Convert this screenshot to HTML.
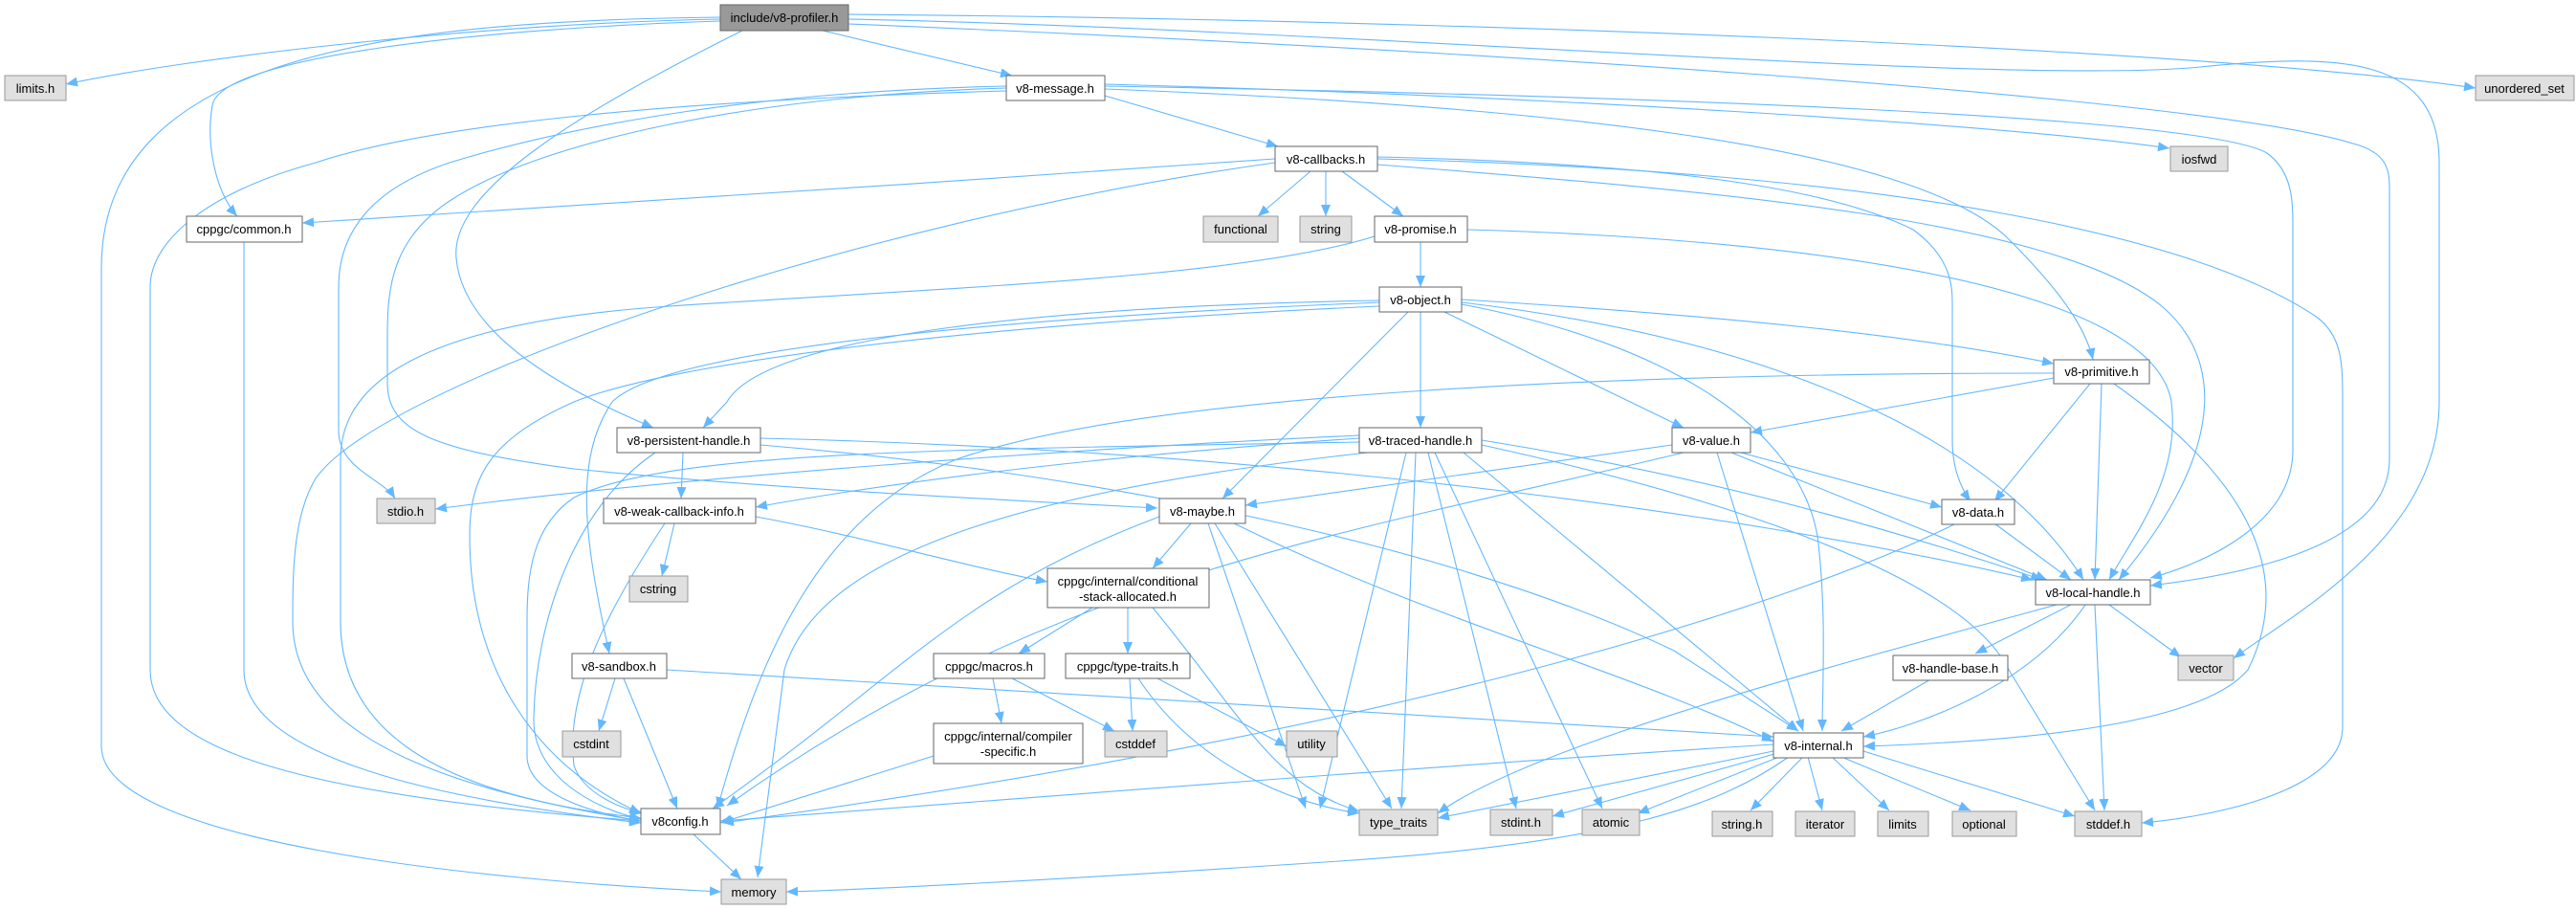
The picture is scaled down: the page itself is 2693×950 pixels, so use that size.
<!DOCTYPE html>
<html><head><meta charset="utf-8"><style>
html,body{margin:0;padding:0;background:#fff;}
svg{display:block;}
text{font-family:"Liberation Sans",Helvetica,sans-serif;font-size:13px;fill:#000;text-anchor:middle;}
.e{fill:none;stroke:#63b8ff;stroke-width:1.1;marker-end:url(#a);}
.w{fill:#fff;stroke:#666;stroke-width:1;}
.g{fill:#e0e0e0;stroke:#999;stroke-width:1;}
.r{fill:#999;stroke:#666;stroke-width:1;}
</style></head><body>
<svg width="2693" height="950" viewBox="0 0 2693 950" xmlns="http://www.w3.org/2000/svg">
<defs><marker id="a" markerUnits="userSpaceOnUse" markerWidth="14" markerHeight="12" refX="12" refY="5" orient="auto"><path d="M0,0 L12,5 L0,10 z" fill="#63b8ff"/></marker></defs>
<g>
<path class="e" d="M753,20 C500,25 200,60 69,88"/>
<path class="e" d="M753,22 C500,30 230,60 222,110 C215,150 225,200 248,226"/>
<path class="e" d="M753,18 C400,22 106,60 106,280 L106,780 C106,880 500,920 754,932"/>
<path class="e" d="M860,32 L1058,79"/>
<path class="e" d="M776,32 C600,120 470,200 477,270 C485,360 620,420 683,447"/>
<path class="e" d="M887,15 C1500,20 2300,50 2588,92"/>
<path class="e" d="M887,20 C1400,30 2100,90 2300,70 C2450,55 2550,60 2550,170 L2550,420 C2550,560 2400,640 2335,688"/>
<path class="e" d="M887,25 C1500,50 2300,100 2460,150 C2498,160 2498,180 2498,200 L2498,480 C2498,570 2350,600 2248,612"/>
<path class="e" d="M1155,100 L1336,153"/>
<path class="e" d="M1052,90 C800,95 600,130 470,170 C380,200 354,250 354,300 L354,450 C354,490 400,500 413,521"/>
<path class="e" d="M1052,92 C780,100 560,150 470,210 C410,250 405,300 405,350 L405,400 C405,450 450,470 600,490 C800,510 1000,520 1210,531"/>
<path class="e" d="M1052,95 C700,105 450,130 330,170 C220,200 157,250 157,300 L157,700 C157,780 300,830 670,858"/>
<path class="e" d="M1155,88 C1600,100 2100,130 2268,155"/>
<path class="e" d="M1155,93 C1600,110 2000,150 2100,250 C2150,300 2180,340 2188,376"/>
<path class="e" d="M1155,90 C1700,100 2300,120 2370,160 C2397,180 2397,210 2397,240 L2397,470 C2397,550 2300,590 2248,604"/>
<path class="e" d="M1370,179 L1315,226"/>
<path class="e" d="M1386,179 L1386,226"/>
<path class="e" d="M1403,179 L1467,226"/>
<path class="e" d="M1333,166 C1000,190 600,215 316,233"/>
<path class="e" d="M1333,170 C900,230 400,400 330,500 C306,540 306,600 306,650 C306,780 500,830 670,858"/>
<path class="e" d="M1440,166 C2000,180 2300,250 2420,330 C2449,350 2449,380 2449,420 L2449,760 C2449,830 2300,855 2239,860"/>
<path class="e" d="M1440,164 C1700,170 1900,190 2000,240 C2041,270 2041,300 2041,320 L2041,460 C2041,490 2050,510 2060,524"/>
<path class="e" d="M1440,172 C1800,200 2150,230 2260,320 C2330,380 2320,480 2215,606"/>
<path class="e" d="M1485,253 L1485,300"/>
<path class="e" d="M1534,240 C1900,250 2250,300 2270,420 C2280,500 2230,560 2205,606"/>
<path class="e" d="M1437,247 C1300,290 1000,300 700,320 C400,340 356,420 356,480 L356,650 C356,760 450,830 670,855"/>
<path class="e" d="M1485,326 L1485,447"/>
<path class="e" d="M1472,326 L1278,521"/>
<path class="e" d="M1510,326 L1760,447"/>
<path class="e" d="M1442,314 C1100,320 800,350 760,420 L735,447"/>
<path class="e" d="M1442,316 C1100,330 700,360 640,420 C600,480 610,560 637,683"/>
<path class="e" d="M1442,320 C1000,340 700,380 600,420 C510,460 491,500 491,560 C491,700 560,800 670,850"/>
<path class="e" d="M1528,313 C1800,330 2000,350 2147,380"/>
<path class="e" d="M1528,316 C1900,360 2100,480 2178,606"/>
<path class="e" d="M1528,318 C1750,360 1880,450 1900,560 C1910,640 1905,720 1905,764"/>
<path class="e" d="M714,473 L712,521"/>
<path class="e" d="M795,465 C1100,490 1500,560 1750,680 L1880,764"/>
<path class="e" d="M795,458 C1300,470 1800,530 2125,606"/>
<path class="e" d="M685,473 C600,530 560,650 558,750 C556,810 620,845 670,856"/>
<path class="e" d="M1421,455 C1100,470 700,500 455,532"/>
<path class="e" d="M1421,458 C1100,480 900,510 790,530"/>
<path class="e" d="M1421,462 C1000,470 700,470 600,520 C556,550 551,600 551,650 L551,790 C551,830 620,850 670,858"/>
<path class="e" d="M1430,473 C1000,520 850,600 820,700 L792,917"/>
<path class="e" d="M1480,473 L1465,845"/>
<path class="e" d="M1470,473 L1380,845"/>
<path class="e" d="M1493,473 L1585,845"/>
<path class="e" d="M1500,473 L1675,845"/>
<path class="e" d="M1530,473 L1880,764"/>
<path class="e" d="M1549,460 C1800,500 2000,560 2135,606"/>
<path class="e" d="M1549,465 C1800,520 2050,600 2100,700 L2190,847"/>
<path class="e" d="M1748,465 L1302,528"/>
<path class="e" d="M1760,473 C1400,560 1100,600 760,842"/>
<path class="e" d="M1820,473 L2030,530"/>
<path class="e" d="M1795,473 L1885,764"/>
<path class="e" d="M1810,473 L2140,606"/>
<path class="e" d="M2147,395 L1830,452"/>
<path class="e" d="M2185,401 L2085,524"/>
<path class="e" d="M2197,401 L2190,606"/>
<path class="e" d="M2210,401 C2350,500 2400,600 2350,700 C2300,760 2100,775 1948,780"/>
<path class="e" d="M2147,390 C1700,390 1200,410 1000,480 C850,540 790,700 750,845"/>
<path class="e" d="M705,547 L692,602"/>
<path class="e" d="M790,540 C900,560 1000,590 1095,608"/>
<path class="e" d="M695,547 C640,630 590,720 600,800 C610,830 650,845 672,850"/>
<path class="e" d="M1245,547 L1205,594"/>
<path class="e" d="M1263,547 L1365,845"/>
<path class="e" d="M1270,547 L1455,845"/>
<path class="e" d="M1290,547 C1500,650 1700,700 1854,775"/>
<path class="e" d="M1212,540 C1000,620 950,700 745,845"/>
<path class="e" d="M1142,635 L1065,683"/>
<path class="e" d="M1179,635 L1179,683"/>
<path class="e" d="M1205,635 C1300,750 1330,820 1421,848"/>
<path class="e" d="M1038,709 L1047,756"/>
<path class="e" d="M1058,709 L1165,764"/>
<path class="e" d="M1181,709 L1184,764"/>
<path class="e" d="M1210,709 L1345,780"/>
<path class="e" d="M1190,709 C1250,800 1350,840 1421,850"/>
<path class="e" d="M976,790 L753,860"/>
<path class="e" d="M643,709 L626,764"/>
<path class="e" d="M652,709 L708,845"/>
<path class="e" d="M697,700 L1854,770"/>
<path class="e" d="M2085,547 L2165,606"/>
<path class="e" d="M2045,547 C1900,620 1500,760 755,860"/>
<path class="e" d="M2165,632 L2065,683"/>
<path class="e" d="M2205,632 L2280,687"/>
<path class="e" d="M2190,632 L2200,847"/>
<path class="e" d="M2180,632 C2120,720 2000,760 1948,770"/>
<path class="e" d="M2150,632 C1900,700 1600,780 1503,850"/>
<path class="e" d="M2020,709 L1925,764"/>
<path class="e" d="M1885,791 L1830,847"/>
<path class="e" d="M1890,791 L1905,847"/>
<path class="e" d="M1915,791 L1975,847"/>
<path class="e" d="M1925,791 L2060,847"/>
<path class="e" d="M1948,785 L2169,853"/>
<path class="e" d="M1860,791 L1712,850"/>
<path class="e" d="M1855,788 L1623,853"/>
<path class="e" d="M1854,785 L1503,855"/>
<path class="e" d="M1870,791 C1800,840 1700,880 1400,900 C1100,920 900,930 822,932"/>
<path class="e" d="M1854,778 C1500,800 1000,840 753,858"/>
<path class="e" d="M725,872 L775,919"/>
<path class="e" d="M255,253 L255,700 C255,800 500,840 670,860"/>
</g>
<g>
<rect class="r" x="753" y="5" width="134" height="27"/><text x="820" y="23">include/v8-profiler.h</text>
<rect class="g" x="5" y="79" width="64" height="26"/><text x="37" y="97">limits.h</text>
<rect class="w" x="195" y="226" width="121" height="27"/><text x="255" y="244">cppgc/common.h</text>
<rect class="w" x="1052" y="79" width="103" height="26"/><text x="1103" y="97">v8-message.h</text>
<rect class="w" x="1333" y="153" width="107" height="26"/><text x="1386" y="171">v8-callbacks.h</text>
<rect class="g" x="1258" y="226" width="78" height="27"/><text x="1297" y="244">functional</text>
<rect class="g" x="1359" y="226" width="54" height="27"/><text x="1386" y="244">string</text>
<rect class="w" x="1437" y="226" width="97" height="27"/><text x="1485" y="244">v8-promise.h</text>
<rect class="w" x="1442" y="300" width="86" height="26"/><text x="1485" y="318">v8-object.h</text>
<rect class="w" x="645" y="447" width="150" height="26"/><text x="720" y="465">v8-persistent-handle.h</text>
<rect class="w" x="1421" y="447" width="128" height="26"/><text x="1485" y="465">v8-traced-handle.h</text>
<rect class="w" x="1748" y="447" width="82" height="26"/><text x="1789" y="465">v8-value.h</text>
<rect class="w" x="2147" y="376" width="100" height="25"/><text x="2197" y="393">v8-primitive.h</text>
<rect class="g" x="2269" y="153" width="60" height="26"/><text x="2299" y="171">iosfwd</text>
<rect class="g" x="2588" y="79" width="103" height="26"/><text x="2639" y="97">unordered_set</text>
<rect class="g" x="394" y="521" width="61" height="26"/><text x="424" y="539">stdio.h</text>
<rect class="w" x="631" y="521" width="159" height="26"/><text x="710" y="539">v8-weak-callback-info.h</text>
<rect class="w" x="1212" y="521" width="90" height="26"/><text x="1257" y="539">v8-maybe.h</text>
<rect class="w" x="2030" y="522" width="76" height="26"/><text x="2068" y="540">v8-data.h</text>
<rect class="g" x="658" y="602" width="61" height="27"/><text x="688" y="620">cstring</text>
<rect class="w" x="1095" y="594" width="169" height="41"/><text x="1179" y="612">cppgc/internal/conditional</text><text x="1179" y="628">-stack-allocated.h</text>
<rect class="w" x="2128" y="606" width="120" height="26"/><text x="2188" y="624">v8-local-handle.h</text>
<rect class="w" x="598" y="683" width="99" height="26"/><text x="647" y="701">v8-sandbox.h</text>
<rect class="w" x="976" y="683" width="116" height="26"/><text x="1034" y="701">cppgc/macros.h</text>
<rect class="w" x="1114" y="683" width="130" height="26"/><text x="1179" y="701">cppgc/type-traits.h</text>
<rect class="w" x="1979" y="685" width="120" height="26"/><text x="2039" y="703">v8-handle-base.h</text>
<rect class="g" x="2277" y="685" width="58" height="26"/><text x="2306" y="703">vector</text>
<rect class="g" x="588" y="764" width="61" height="27"/><text x="618" y="782">cstdint</text>
<rect class="w" x="976" y="756" width="156" height="42"/><text x="1054" y="774">cppgc/internal/compiler</text><text x="1054" y="790">-specific.h</text>
<rect class="g" x="1155" y="764" width="65" height="27"/><text x="1187" y="782">cstddef</text>
<rect class="g" x="1345" y="764" width="53" height="27"/><text x="1371" y="782">utility</text>
<rect class="w" x="1854" y="766" width="94" height="26"/><text x="1901" y="784">v8-internal.h</text>
<rect class="w" x="670" y="845" width="83" height="27"/><text x="711" y="863">v8config.h</text>
<rect class="g" x="1421" y="846" width="82" height="27"/><text x="1462" y="864">type_traits</text>
<rect class="g" x="1558" y="846" width="65" height="27"/><text x="1590" y="864">stdint.h</text>
<rect class="g" x="1654" y="846" width="60" height="27"/><text x="1684" y="864">atomic</text>
<rect class="g" x="1790" y="848" width="63" height="26"/><text x="1821" y="866">string.h</text>
<rect class="g" x="1877" y="848" width="62" height="26"/><text x="1908" y="866">iterator</text>
<rect class="g" x="1963" y="848" width="53" height="26"/><text x="1989" y="866">limits</text>
<rect class="g" x="2041" y="848" width="67" height="26"/><text x="2074" y="866">optional</text>
<rect class="g" x="2169" y="848" width="70" height="26"/><text x="2204" y="866">stddef.h</text>
<rect class="g" x="754" y="919" width="68" height="26"/><text x="788" y="937">memory</text>
</g>
</svg>
</body></html>
